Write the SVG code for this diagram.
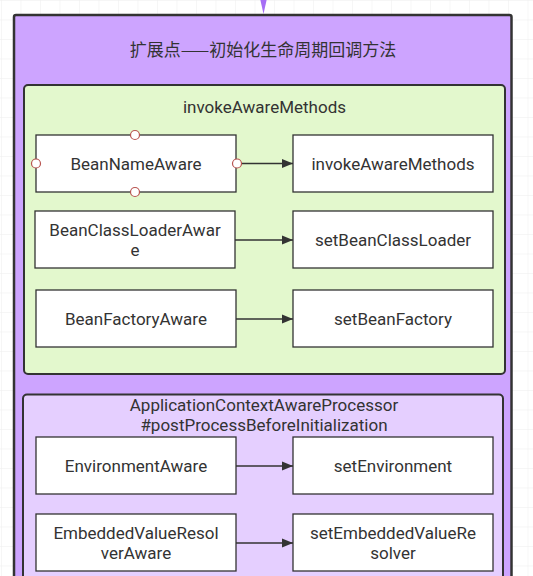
<svg xmlns="http://www.w3.org/2000/svg" width="533" height="576" viewBox="0 0 533 576">
  <style>
    .txt { font-family: Roboto, "Noto Sans CJK SC", sans-serif; font-size: 17px; fill: #333333; text-anchor: middle; }
    .title { font-family: "Noto Sans CJK SC", "Noto Sans", sans-serif; font-size: 17px; fill: #333333; text-anchor: middle; }
    .node { fill: #ffffff; stroke: #333333; stroke-width: 1.3; }
    .edge { fill: none; stroke: #333333; stroke-width: 1.3; marker-end: url(#arr); }
    .handle { fill: #ffffff; stroke: #b85450; stroke-width: 1.2; }
  </style>
  <defs>
    <pattern id="grid" patternUnits="userSpaceOnUse" x="1" y="0" width="19.5" height="19.5">
      <path d="M 19.5 0 L 0 0 0 19.5" fill="none" stroke="#eeeeee" stroke-width="1"/>
    </pattern>
    <marker id="arr" viewBox="0 0 10 10" refX="10" refY="5" markerWidth="11" markerHeight="11" markerUnits="userSpaceOnUse" orient="auto">
      <path d="M0,1 L10,5 L0,9 Z" fill="#333333"/>
    </marker>
  </defs>

  <rect x="0" y="0" width="533" height="576" fill="#ffffff"/>
  <rect x="0" y="0" width="533" height="576" fill="url(#grid)"/>

  <g id="incoming-arrow">
    <polygon points="259.5,-4 267.5,-4 263.5,14" fill="#a66ef5"/>
  </g>

  <g id="outer">
    <rect x="14" y="15" width="497.5" height="600" rx="2" fill="#cda4ff" stroke="#333333" stroke-width="2.5"/>
    <text class="title" x="263" y="56">扩展点——初始化生命周期回调方法</text>
  </g>

  <g id="group-invokeAwareMethods">
    <rect x="24" y="85" width="481" height="289" rx="4" fill="#e3f8cd" stroke="#333333" stroke-width="2"/>
    <text class="txt" x="264.5" y="113">invokeAwareMethods</text>
  </g>

  <g id="group-processor">
    <rect x="23" y="394.5" width="480" height="220" rx="4" fill="#e5cfff" stroke="#333333" stroke-width="2"/>
    <text class="txt" x="264" y="411"><tspan x="264" y="411">ApplicationContextAwareProcessor</tspan><tspan x="264" y="431">#postProcessBeforeInitialization</tspan></text>
  </g>

  <g id="connectors">
    <line class="edge" x1="237" y1="163.5" x2="293" y2="163.5"/>
    <line class="edge" x1="235" y1="240" x2="293" y2="240"/>
    <line class="edge" x1="236" y1="319" x2="293" y2="319"/>
    <line class="edge" x1="236" y1="466" x2="293" y2="466"/>
    <line class="edge" x1="236" y1="543" x2="293" y2="543"/>
  </g>

  <g id="BeanNameAware">
    <rect class="node" x="36" y="135" width="200" height="57"/>
    <text class="txt" x="136" y="169.5">BeanNameAware</text>
  </g>
  <g id="invokeAwareMethods">
    <rect class="node" x="293" y="135" width="200" height="57"/>
    <text class="txt" x="393" y="169.5">invokeAwareMethods</text>
  </g>
  <g id="BeanClassLoaderAware">
    <rect class="node" x="35" y="211" width="200" height="57"/>
    <text class="txt" x="135" y="235.5"><tspan x="135" y="235.5">BeanClassLoaderAwar</tspan><tspan x="135" y="255.5">e</tspan></text>
  </g>
  <g id="setBeanClassLoader">
    <rect class="node" x="293" y="211" width="200" height="57"/>
    <text class="txt" x="393" y="246">setBeanClassLoader</text>
  </g>
  <g id="BeanFactoryAware">
    <rect class="node" x="36" y="290" width="200" height="57"/>
    <text class="txt" x="136" y="324.5">BeanFactoryAware</text>
  </g>
  <g id="setBeanFactory">
    <rect class="node" x="293" y="290" width="200" height="57"/>
    <text class="txt" x="393" y="324.5">setBeanFactory</text>
  </g>
  <g id="EnvironmentAware">
    <rect class="node" x="36" y="437" width="200" height="57"/>
    <text class="txt" x="136" y="471.5">EnvironmentAware</text>
  </g>
  <g id="setEnvironment">
    <rect class="node" x="293" y="437" width="200" height="57"/>
    <text class="txt" x="393" y="471.5">setEnvironment</text>
  </g>
  <g id="EmbeddedValueResolverAware">
    <rect class="node" x="36" y="514" width="200" height="57"/>
    <text class="txt" x="136" y="538.5"><tspan x="136" y="538.5">EmbeddedValueResol</tspan><tspan x="136" y="558.5">verAware</tspan></text>
  </g>
  <g id="setEmbeddedValueResolver">
    <rect class="node" x="293" y="514" width="200" height="57"/>
    <text class="txt" x="393" y="538.5"><tspan x="393" y="538.5">setEmbeddedValueRe</tspan><tspan x="393" y="558.5">solver</tspan></text>
  </g>

  <g id="selection-handles">
    <circle class="handle" cx="135" cy="135" r="4.5"/>
    <circle class="handle" cx="135" cy="192" r="4.5"/>
    <circle class="handle" cx="36" cy="163.5" r="4.5"/>
    <circle class="handle" cx="237" cy="163.5" r="4.5"/>
  </g>
</svg>
